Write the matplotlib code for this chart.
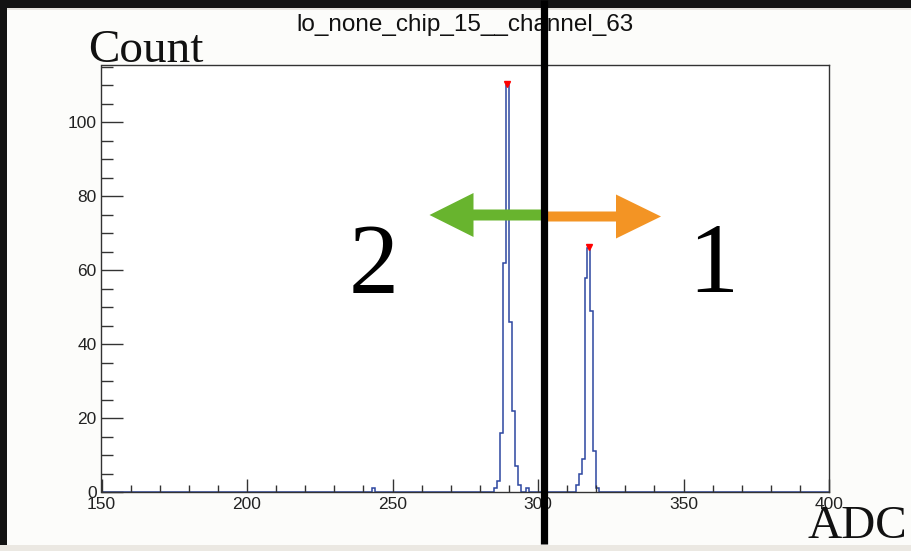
import matplotlib
matplotlib.use("Agg")
import matplotlib.pyplot as plt
import numpy as np
from matplotlib.patches import Rectangle, FancyArrow
from matplotlib.lines import Line2D
from matplotlib.ticker import MultipleLocator

# histogram contents (ADC bins of width 1, only non-empty bins listed)
bin_left = [243, 285, 286, 287, 288, 289, 290, 291, 292, 293, 296,
            313, 314, 315, 316, 317, 318, 319, 320]
bin_count = [1, 1, 3, 16, 62, 110, 46, 22, 7, 2, 1,
             2, 5, 9, 58, 66, 49, 11, 1]

# peaks found on the spectrum
peak_x = [289.5, 317.5]
peak_y = [110, 66]

x_min, x_max = 150, 400
y_max = 115.5
title = "lo_none_chip_15__channel_63"

W, H = 912, 551
SANS = ["Liberation Sans", "DejaVu Sans"]
SERIF = ["Liberation Serif", "DejaVu Serif"]

edges = np.arange(x_min, x_max + 1)
counts = np.zeros(len(edges) - 1)
for b, c in zip(bin_left, bin_count):
    counts[b - x_min] = c

fig = plt.figure(figsize=(W / 100, H / 100), dpi=100, facecolor="#131313")


def fx(px):
    return px / W


def fy(py):
    return 1 - py / H


# screenshot-like background
fig.add_artist(Rectangle((fx(7), fy(545)), 1, fy(9) - fy(545), transform=fig.transFigure,
                         facecolor="#fcfcfa", edgecolor="none", zorder=-5))
fig.add_artist(Rectangle((fx(7), fy(10)), 1, fy(8) - fy(10), transform=fig.transFigure,
                         facecolor="#e6e4df", edgecolor="none", zorder=-5))
fig.add_artist(Rectangle((0, 0), 1, fy(545), transform=fig.transFigure,
                         facecolor="#ebe8e2", edgecolor="none", zorder=-5))

ax = fig.add_axes([fx(101.5), fy(492), fx(829) - fx(101.5), fy(65) - fy(492)])
ax.set_facecolor("white")

ax.stairs(counts, edges, color="#2c46a0", lw=1.1, zorder=1.5)
ax.plot(peak_x, np.array(peak_y) + 0.4, "v", color="red", ms=5, mec="red", zorder=3)

ax.set_xlim(x_min, x_max)
ax.set_ylim(0, y_max)

for s in ax.spines.values():
    s.set_color("#333333")
    s.set_linewidth(1.0)

ax.xaxis.set_major_locator(MultipleLocator(50))
ax.xaxis.set_minor_locator(MultipleLocator(10))
ax.yaxis.set_major_locator(MultipleLocator(20))
ax.yaxis.set_minor_locator(MultipleLocator(5))
ax.tick_params(axis="both", which="both", direction="in", color="#333333", width=1.0,
               top=False, right=False, labelsize=12.5, labelcolor="#222222")
ax.tick_params(axis="x", which="major", length=9.5, pad=3.5)
ax.tick_params(axis="x", which="minor", length=5)
ax.tick_params(axis="y", which="major", length=15.8, pad=3.5)
ax.tick_params(axis="y", which="minor", length=8.6)
for lab in ax.get_xticklabels() + ax.get_yticklabels():
    lab.set_family(SANS)

# titles
fig.text(fx(465), fy(31), title, ha="center", va="baseline", fontsize=17.5,
         family=SANS, color="#111111")
fig.text(fx(88), fy(62), "Count", ha="left", va="baseline", fontsize=34,
         family=SERIF, color="#111111")
fig.text(fx(907), fy(538), "ADC", ha="right", va="baseline", fontsize=34,
         family=SERIF, color="#111111")

# cut annotation: separating line, arrows and labels
fig.add_artist(Line2D([fx(543.8), fx(543.8)], [fy(0), fy(544)], transform=fig.transFigure,
                      color="black", lw=5.2, zorder=10, solid_capstyle="butt"))
fig.add_artist(FancyArrow(5.41, (H - 215) / 100, -(541 - 429.5) / 100, 0,
                          width=0.11, head_width=0.44, head_length=0.44,
                          length_includes_head=True, transform=fig.dpi_scale_trans,
                          facecolor="#68b42e", edgecolor="none", zorder=9))
fig.add_artist(FancyArrow(5.465, (H - 216.5) / 100, (661 - 546.5) / 100, 0,
                          width=0.10, head_width=0.44, head_length=0.45,
                          length_includes_head=True, transform=fig.dpi_scale_trans,
                          facecolor="#f39424", edgecolor="none", zorder=9))
fig.text(fx(374), fy(292), "2", ha="center", va="baseline", fontsize=72,
         family=SERIF, color="black", zorder=11)
fig.text(fx(713), fy(292), "1", ha="center", va="baseline", fontsize=72,
         family=SERIF, color="black", zorder=11)

fig.savefig("out.png", dpi=100, facecolor=fig.get_facecolor())
